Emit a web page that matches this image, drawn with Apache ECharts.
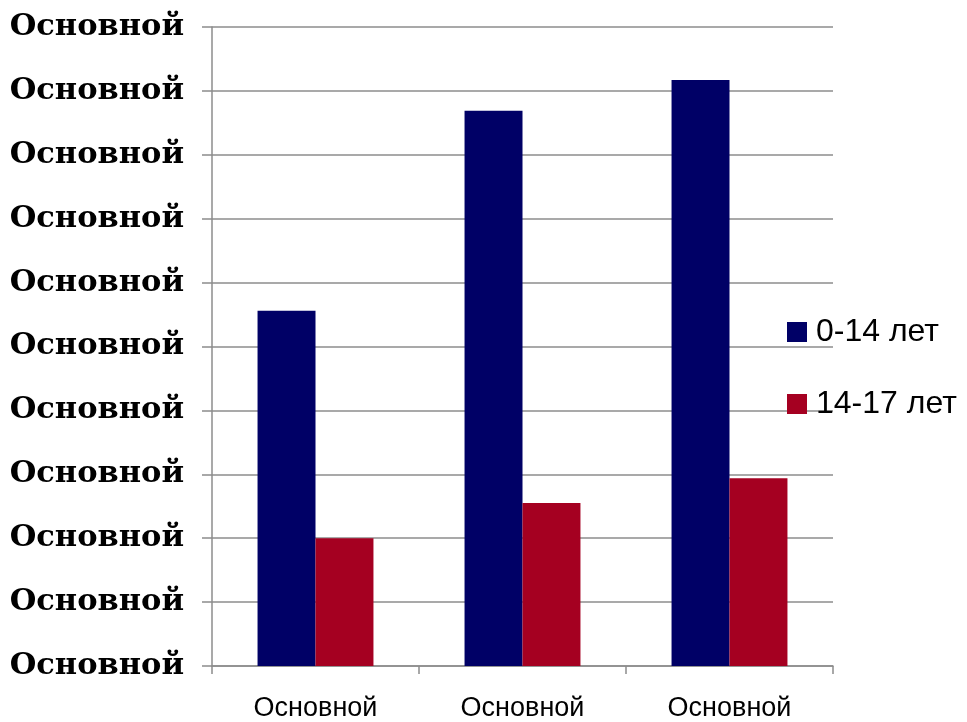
<!DOCTYPE html>
<html><head><meta charset="utf-8">
<script src="https://cdn.jsdelivr.net/npm/echarts@6/dist/echarts.min.js"></script>
<style>html,body{margin:0;padding:0;background:#fff}#c{width:967px;height:722px}</style>
</head><body><div id="c"></div>
<script>
const categories = ['Основной', 'Основной', 'Основной'];
const seriesNames = ['0-14 лет', '14-17 лет'];
const values0to14 = [55.6, 86.9, 91.7];
const values14to17 = [20.0, 25.5, 29.4];
const yTickLabel = 'Основной';

const chart = echarts.init(document.getElementById('c'));
chart.setOption({
  animation: false,
  backgroundColor: '#fff',
  grid: { left: 212, right: 134, top: 27, bottom: 55, containLabel: false },
  legend: {
    orient: 'vertical', left: 787, top: 316, padding: 0,
    itemWidth: 20, itemHeight: 20, itemGap: 40,
    icon: 'rect',
    textStyle: { fontFamily: 'Liberation Sans', fontSize: 32, lineHeight: 20, color: '#000', padding: [0,0,0,4] },
    data: seriesNames
  },
  xAxis: {
    type: 'category', data: categories,
    axisLine: { lineStyle: { color: '#8c8c8c', width: 1.5 } },
    axisTick: { show: true, length: 8, lineStyle: { color: '#8c8c8c', width: 1.5 } },
    axisLabel: { margin: 29, fontFamily: 'Liberation Sans', fontSize: 27, color: '#000' }
  },
  yAxis: {
    type: 'value', min: 0, max: 100, interval: 10,
    axisLine: { show: true, lineStyle: { color: '#8c8c8c', width: 1.5 } },
    axisTick: { show: true, length: 10, lineStyle: { color: '#8c8c8c', width: 1.5 } },
    splitLine: { lineStyle: { color: '#8c8c8c', width: 1.5 } },
    axisLabel: { margin: 28, formatter: () => yTickLabel, fontFamily: 'DejaVu Serif', fontWeight: 'bold', fontSize: 30.5, color: '#000' }
  },
  series: [
    { name: seriesNames[0], type: 'bar', data: values0to14, barGap: '0%', barCategoryGap: '44%', itemStyle: { color: '#000066' } },
    { name: seriesNames[1], type: 'bar', data: values14to17, itemStyle: { color: '#a50021' } }
  ]
});
</script></body></html>
